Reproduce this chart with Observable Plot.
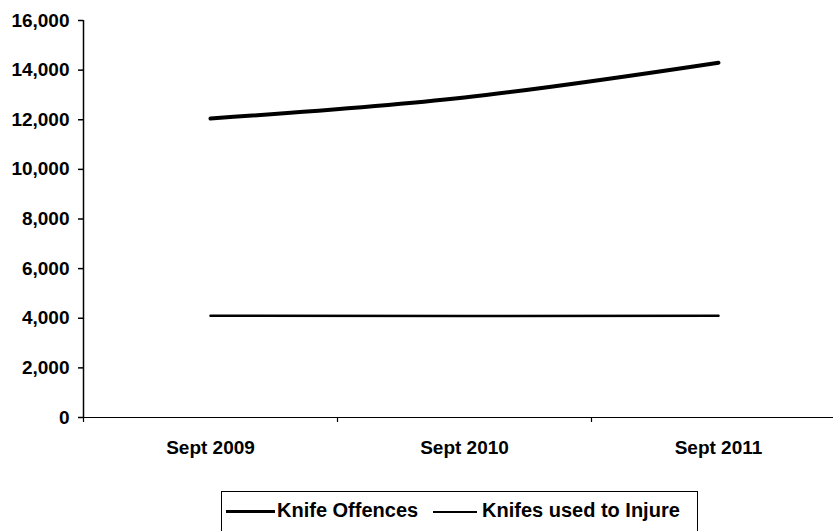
<!DOCTYPE html>
<html>
<head>
<meta charset="utf-8">
<script src="https://cdn.jsdelivr.net/npm/d3@7"></script>
<script src="https://cdn.jsdelivr.net/npm/@observablehq/plot@0.6"></script>
<style>
  html, body { margin: 0; padding: 0; background: #fff; }
  #chart { width: 833px; height: 531px; overflow: hidden; position: relative; }
  #legend {
    position: absolute; left: 221px; top: 491px; width: 477px; height: 60px;
    border: 1.5px solid #000; box-sizing: border-box;
  }
  .lg { position: absolute; font-family: "Liberation Sans", Arial, sans-serif; font-weight: bold; font-size: 20px; line-height: 20px; white-space: nowrap; color: #000; }
  .sw { position: absolute; background: #000; }
</style>
</head>
<body>
<div id="chart"></div>
<script>
const categories = ["Sept 2009", "Sept 2010", "Sept 2011"];
const knifeOffences = [12050, 12900, 14300];
const knifesUsedToInjure = [4100, 4090, 4100];
const yTicks = [0, 2000, 4000, 6000, 8000, 10000, 12000, 14000, 16000];
const seriesNames = ["Knife Offences", "Knifes used to Injure"];

const offRows = categories.map((c, i) => ({i, cat: c, v: knifeOffences[i]}));
const injRows = categories.map((c, i) => ({i, cat: c, v: knifesUsedToInjure[i]}));
const catIdx = categories.map((c, i) => i);
const bounds = [-0.5, ...catIdx.map(i => i + 0.5)];

const fmt = d3.format(",");
const plot = Plot.plot({
  width: 833,
  height: 470,
  marginLeft: 83,
  marginRight: 0,
  marginTop: 20,
  marginBottom: 53,
  style: {fontFamily: "'Liberation Sans', Arial, sans-serif", fontWeight: "bold", fontSize: "19px", color: "#000", background: "#fff", overflow: "visible"},
  x: {domain: [-0.5, 2.5], range: [83, 845]},
  y: {domain: [0, 16000]},
  marks: [
    Plot.axisY({ticks: yTicks, tickFormat: fmt, tickSize: 5, tickPadding: 9, label: null, stroke: "#000", strokeWidth: 1.5}),
    Plot.axisX({ticks: bounds, tickSize: 5, tickFormat: () => "", label: null, stroke: "#000", strokeWidth: 1.2}),
    Plot.axisX({ticks: catIdx, tickSize: 0, tickPadding: 23, tickFormat: i => categories[i], label: null}),
    Plot.ruleX([-0.5], {y1: 0, y2: 16000, stroke: "#000", strokeWidth: 1.5}),
    Plot.ruleY([0], {stroke: "#000", strokeWidth: 1.2}),
    Plot.line(offRows, {x: "i", y: "v", stroke: "#000", strokeWidth: 4, curve: "catmull-rom"}),
    Plot.line(injRows, {x: "i", y: "v", stroke: "#000", strokeWidth: 2.5})
  ]
});
const chart = document.getElementById("chart");
chart.appendChild(plot);

const legend = document.createElement("div");
legend.id = "legend";
chart.appendChild(legend);
function addEl(cls, left, top, w, h, text) {
  const el = document.createElement("div");
  el.className = cls;
  el.style.left = left + "px";
  el.style.top = top + "px";
  if (w != null) el.style.width = w + "px";
  if (h != null) el.style.height = h + "px";
  if (text != null) el.textContent = text;
  chart.appendChild(el);
}
addEl("sw", 226, 510, 49, 3);
addEl("lg", 277, 500, null, null, seriesNames[0]);
addEl("sw", 433, 510.5, 44, 2);
addEl("lg", 482, 500, null, null, seriesNames[1]);
</script>
</body>
</html>
